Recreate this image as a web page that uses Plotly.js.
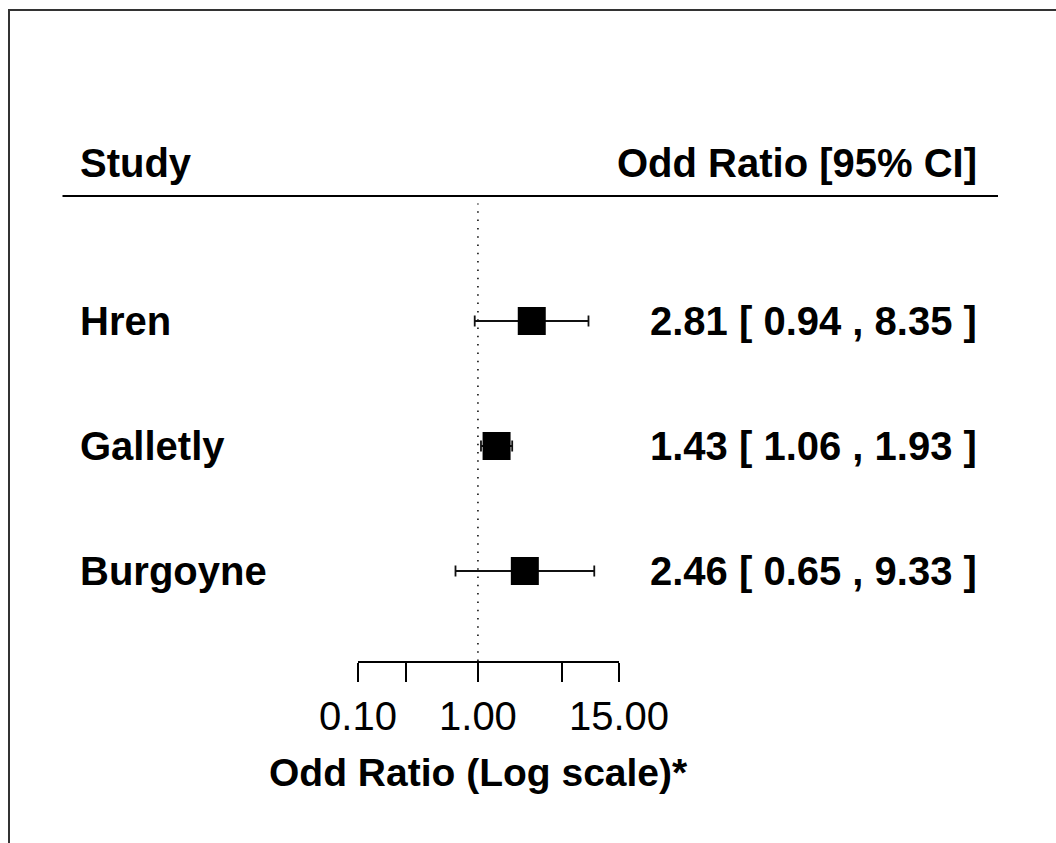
<!DOCTYPE html>
<html>
<head>
<meta charset="utf-8">
<script src="https://cdn.plot.ly/plotly-3.0.1.min.js"></script>
<style>html,body{margin:0;padding:0;background:#fff;}#plot{width:1056px;height:843px;}</style>
</head>
<body>
<div id="plot"></div>
<script>
// ---- data ----
var studies = ['Hren', 'Galletly', 'Burgoyne'];
var oddRatio = [2.81, 1.43, 2.46];
var ciLower = [0.94, 1.06, 0.65];
var ciUpper = [8.35, 1.93, 9.33];
var rows = [3, 2, 1];
var tickVals = [0.1, 0.25, 1, 5, 15];
var tickLabels = ['0.10', '', '1.00', '', '15.00'];
var nullValue = 1;

var FONT = 'Liberation Sans, Arial, Helvetica, sans-serif';
var W = 1056, H = 843;
var M = {l: 358, r: 437, t: 0, b: 182};
var PW = W - M.l - M.r, PH = H - M.t - M.b;
function px(xPix) { return (xPix - M.l) / PW; }
function py(yPix) { return (M.t + PH - yPix) / PH; }
var yMin = 0.28, yMax = 5.568;

var errPlus = oddRatio.map(function (v, i) { return ciUpper[i] - v; });
var errMinus = oddRatio.map(function (v, i) { return v - ciLower[i]; });

var traces = [
  {
    x: [nullValue, nullValue], y: [yMin, 3.94],
    mode: 'lines', type: 'scatter', hoverinfo: 'skip',
    line: {color: '#000', width: 1.5, dash: '1.5px,6.8px'},
    showlegend: false
  },
  {
    x: oddRatio, y: rows, type: 'scatter', mode: 'markers',
    marker: {symbol: 'square', size: 28, color: '#000', line: {width: 0}},
    error_x: {type: 'data', symmetric: false, array: errPlus, arrayminus: errMinus,
              color: '#111', thickness: 1.8, width: 5.5},
    showlegend: false, cliponaxis: false
  }
];

var annotations = [];
studies.forEach(function (s, i) {
  annotations.push({xref: 'paper', yref: 'y', x: px(78), y: rows[i], xanchor: 'left', yanchor: 'middle',
    text: '<b>' + s + '</b>', showarrow: false, font: {family: FONT, size: 40, color: '#000'}});
  annotations.push({xref: 'paper', yref: 'y', x: px(979), y: rows[i], xanchor: 'right', yanchor: 'middle',
    text: '<b>' + oddRatio[i].toFixed(2) + ' [ ' + ciLower[i].toFixed(2) + ' , ' + ciUpper[i].toFixed(2) + ' ]</b>',
    showarrow: false, font: {family: FONT, size: 40, color: '#000'}});
});
annotations.push({xref: 'paper', yref: 'paper', x: px(78), y: py(163), xanchor: 'left', yanchor: 'middle',
  text: '<b>Study</b>', showarrow: false, font: {family: FONT, size: 40, color: '#000'}});
annotations.push({xref: 'paper', yref: 'paper', x: px(979), y: py(163), xanchor: 'right', yanchor: 'middle',
  text: '<b>Odd Ratio [95% CI]</b>', showarrow: false, font: {family: FONT, size: 40, color: '#000'}});
annotations.push({xref: 'paper', yref: 'paper', x: px(478.5), y: py(773), xanchor: 'center', yanchor: 'middle',
  text: '<b>Odd Ratio (Log scale)*</b>', showarrow: false, font: {family: FONT, size: 39, color: '#000'}});

var layout = {
  width: W, height: H,
  margin: {l: M.l, r: M.r, t: M.t, b: M.b, pad: 0},
  paper_bgcolor: '#fff', plot_bgcolor: 'rgba(0,0,0,0)',
  showlegend: false,
  xaxis: {
    type: 'log', range: [Math.log10(0.1), Math.log10(15)],
    showgrid: false, zeroline: false,
    showline: true, linecolor: '#000', linewidth: 1.6,
    ticks: 'outside', ticklen: 19, tickwidth: 1.6, tickcolor: '#000',
    tickmode: 'array', tickvals: tickVals, ticktext: tickLabels,
    tickfont: {family: FONT, size: 40, color: '#000'},
    ticklabelstandoff: 0,
    fixedrange: true
  },
  yaxis: {range: [yMin, yMax], visible: false, fixedrange: true},
  annotations: annotations,
  shapes: [
    {type: 'line', xref: 'paper', yref: 'y', x0: px(62.5), x1: px(998), y0: 4, y1: 4,
     line: {color: '#000', width: 2}},
    {type: 'rect', xref: 'paper', yref: 'paper', x0: px(9), x1: px(1100), y0: py(900), y1: py(10),
     line: {color: '#333', width: 2}, fillcolor: 'rgba(0,0,0,0)'}
  ]
};

Plotly.newPlot('plot', traces, layout, {displayModeBar: false, staticPlot: true});
</script>
</body>
</html>
